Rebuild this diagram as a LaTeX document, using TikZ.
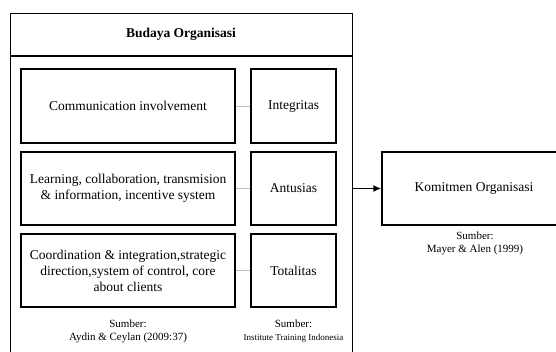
\documentclass[tikz,border=0pt]{standalone}
\usepackage{fontspec}
\setmainfont{Liberation Serif}
\usetikzlibrary{arrows.meta}
\begin{document}
\begin{tikzpicture}[x=1pt,y=-1pt,
  box/.style={draw, line width=1.4pt, align=center, inner sep=2pt,
    font=\fontsize{13.5}{16}\selectfont},
  link/.style={draw=black!25, line width=0.9pt},
  src/.style={align=center, inner sep=0pt, font=\fontsize{11}{13}\selectfont},
  ]
\useasboundingbox (0,0) rectangle (556,352);
\clip (0,0) rectangle (556,352);
\node[draw, line width=1.4pt, minimum width=342pt, minimum height=347pt, anchor=north west, inner sep=0pt] (outer) at (10,13) {};
\node[font=\fontsize{13.5}{16}\selectfont\bfseries] (title) at (181,34.5) {Budaya Organisasi};
\draw[line width=1.4pt] (outer.west |- 0,56) -- (outer.east |- 0,56);
\node[box, minimum width=214pt, minimum height=74pt] (c1) at (128,106) {Communication involvement};
\node[box, minimum width=214pt, minimum height=73pt] (c2) at (128,188.5) {Learning, collaboration, transmision\\\& information, incentive system};
\node[box, minimum width=214pt, minimum height=73pt] (c3) at (128,270.5) {Coordination \& integration,strategic\\direction,system of control, core\\about clients};
\node[box, minimum width=85pt, minimum height=74pt] (d1) at (293.5,106) {Integritas};
\node[box, minimum width=85pt, minimum height=73pt] (d2) at (293.5,188.5) {Antusias};
\node[box, minimum width=85pt, minimum height=73pt] (d3) at (293.5,270.5) {Totalitas};
\draw[link] (c1) -- (d1);
\draw[link] (c2) -- (d2);
\draw[link] (c3) -- (d3);
\node[box, minimum width=184pt, minimum height=73pt] (k) at (474,188.5) {Komitmen Organisasi};
\draw[line width=1.4pt, -{Latex[length=8pt,width=7pt]}] (k.west -| outer.east) -- (k.west);
\node[src] (s1) at (128,331.5) {Sumber:\\Aydin \& Ceylan (2009:37)};
\node[src] (s2) at (293.5,331.5) {Sumber:\\{\fontsize{9}{11}\selectfont Institute Training Indonesia}};
\node[src] (s3) at (475,243.5) {Sumber:\\Mayer \& Alen (1999)};
\end{tikzpicture}
\end{document}
